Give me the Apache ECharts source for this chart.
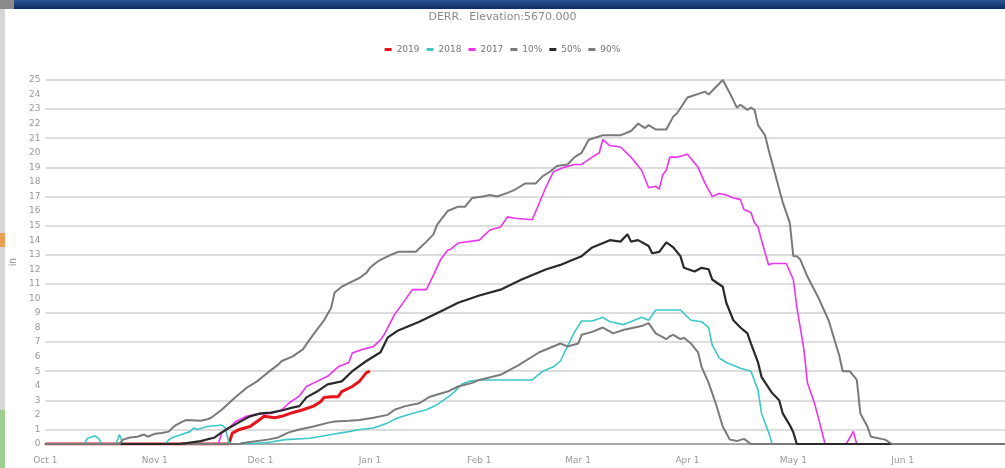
<!DOCTYPE html>
<html>
<head>
<meta charset="utf-8">
<title>DERR snow</title>
<script src="https://cdn.jsdelivr.net/npm/echarts@6/dist/echarts.min.js"></script>
<style>
	html, body { margin: 0; padding: 0; background: #fff; }
	#chart { position: absolute; left: 0; top: 0; width: 1005px; height: 468px; }
	.bar { position: absolute; top: 0; left: 14px; right: 0; height: 9px; background: linear-gradient(#2d5596, #0c2c63); }
	.barl { position: absolute; top: 0; left: 0; width: 14px; height: 9px; background: #8a8a8a; }
	.edge { position: absolute; left: 0; top: 9px; width: 5px; height: 459px; background: #d6d6d6; }
	.edge-o { position: absolute; left: 0; top: 233px; width: 5px; height: 14px; background: #e8a050; }
	.edge-g { position: absolute; left: 0; top: 410px; width: 5px; height: 58px; background: #9ccf90; }
</style>
</head>
<body>
<div id="chart"></div>
<div class="bar"></div><div class="barl"></div>
<div class="edge"></div><div class="edge-o"></div><div class="edge-g"></div>
<script>
// x = days since Oct 1, y = inches
var monthDays = [0, 31, 61, 92, 123, 151, 182, 212, 243];
var tickLabels = ['Oct 1', 'Nov 1', 'Dec 1', 'Jan 1', 'Feb 1', 'Mar 1', 'Apr 1', 'May 1', 'Jun 1'];
var names = ['2019', '2018', '2017', '10%', '50%', '90%'];

var wy2019 = [[0,0],[52,0],[53,0.75],[55,1.0],[58,1.2],[60,1.55],[62,1.9],[65,1.8],[67,1.9],[70,2.15],[73,2.35],[76,2.6],[78,2.9],[79,3.2],[81,3.25],[83,3.25],[84,3.6],[87,3.95],[89,4.3],[91,4.9],[92,5.0]];

var wy2018 = [[0,0],[11,0],[12,0.4],[14,0.55],[15,0.4],[16,0],[20,0],[21,0.65],[22,0],[34,0],[35,0.3],[36,0.45],[38,0.6],[41,0.85],[42,1.1],[43,1.0],[46,1.2],[50,1.3],[51,1.1],[52,0.1],[53,0],[55,0],[56,0.1],[57,0],[63,0.1],[68,0.3],[75,0.4],[81,0.65],[86,0.85],[89,1.0],[93,1.1],[97,1.45],[100,1.8],[104,2.1],[108,2.35],[111,2.7],[114,3.2],[116,3.6],[118,4.1],[120,4.3],[123,4.4],[138,4.4],[141,5.0],[144,5.3],[146,5.7],[148,6.7],[150,7.7],[152,8.45],[155,8.45],[158,8.7],[160,8.4],[164,8.2],[169,8.7],[171,8.5],[173,9.2],[180,9.2],[183,8.5],[186,8.4],[188,8.0],[189,6.8],[191,5.9],[193,5.6],[197,5.2],[200,5.0],[202,3.7],[203,2.1],[205,0.8],[206,0],[272,0]];

var wy2017 = [[0,0],[49,0],[50,0.75],[52,1.1],[54,1.55],[57,1.9],[60,2.05],[64,2.1],[67,2.35],[69,2.8],[72,3.3],[74,3.95],[77,4.3],[80,4.65],[83,5.3],[86,5.6],[87,6.25],[90,6.5],[93,6.7],[95,7.15],[96,7.5],[99,8.9],[102,9.9],[104,10.6],[108,10.6],[110,11.6],[112,12.65],[114,13.3],[115,13.4],[117,13.8],[123,14.0],[126,14.7],[129,14.9],[131,15.6],[133,15.5],[138,15.4],[140,16.55],[142,17.7],[144,18.7],[147,19.0],[150,19.2],[152,19.2],[155,19.7],[157,20.0],[158,20.9],[160,20.5],[163,20.4],[166,19.7],[169,18.8],[171,17.6],[173,17.7],[174,17.5],[175,18.5],[176,18.8],[177,19.7],[179,19.7],[182,19.9],[184,19.3],[185,19.0],[187,17.9],[189,17.0],[191,17.2],[193,17.1],[195,16.9],[197,16.8],[198,16.1],[200,15.9],[201,15.2],[202,14.9],[203,14.0],[205,12.3],[206,12.4],[210,12.4],[212,11.3],[213,9.4],[215,6.5],[216,4.2],[218,2.8],[219,1.9],[221,0],[227,0],[229,0.86],[230,0],[272,0]];

var pct10 = [[0,0],[55,0],[57,0.1],[63,0.3],[66,0.45],[69,0.8],[72,1.0],[76,1.2],[80,1.45],[82,1.55],[86,1.6],[89,1.65],[93,1.8],[97,2.0],[99,2.35],[102,2.6],[106,2.8],[109,3.25],[114,3.6],[117,3.95],[121,4.2],[123,4.4],[129,4.75],[134,5.4],[140,6.3],[146,6.9],[148,6.7],[151,6.9],[152,7.5],[155,7.7],[158,8.0],[161,7.6],[164,7.85],[169,8.1],[171,8.3],[173,7.6],[176,7.2],[177,7.4],[178,7.5],[180,7.2],[181,7.3],[183,6.9],[185,6.3],[186,5.3],[188,4.2],[190,2.8],[192,1.2],[194,0.3],[196,0.2],[198,0.35],[200,0],[272,0]];

var pct50 = [[0,0],[38,0],[41,0.1],[44,0.2],[48,0.45],[50,0.8],[52,1.1],[55,1.5],[58,1.9],[61,2.1],[64,2.15],[67,2.3],[70,2.5],[72,2.6],[74,3.2],[77,3.6],[80,4.1],[84,4.3],[87,5.0],[91,5.7],[95,6.3],[97,7.3],[100,7.8],[106,8.4],[112,9.1],[117,9.7],[123,10.2],[129,10.6],[135,11.3],[142,12.0],[146,12.3],[149,12.6],[152,12.9],[155,13.5],[160,14.0],[163,13.9],[165,14.4],[166,13.9],[168,14.0],[171,13.6],[172,13.1],[174,13.2],[176,13.85],[178,13.5],[180,12.9],[181,12.1],[184,11.85],[186,12.1],[188,12.0],[189,11.3],[192,10.8],[193,9.7],[195,8.5],[197,8.0],[199,7.6],[200,6.9],[202,5.6],[203,4.6],[206,3.5],[208,3.0],[209,2.1],[211,1.3],[212,0.8],[213,0],[272,0]];

var pct90 = [[0,0],[21,0],[22,0.3],[24,0.45],[26,0.5],[28,0.65],[29,0.5],[31,0.7],[33,0.75],[35,0.85],[36,1.1],[37,1.3],[39,1.55],[40,1.65],[44,1.6],[46,1.7],[47,1.8],[50,2.35],[52,2.8],[54,3.25],[57,3.85],[60,4.3],[63,4.9],[66,5.45],[67,5.7],[70,6.0],[73,6.5],[75,7.2],[77,7.85],[79,8.5],[81,9.35],[82,10.4],[84,10.8],[86,11.05],[89,11.4],[91,11.75],[92,12.1],[94,12.5],[95,12.65],[98,13.0],[100,13.2],[105,13.2],[108,13.9],[110,14.4],[111,15.05],[114,16.0],[117,16.3],[119,16.3],[121,16.9],[124,17.0],[126,17.1],[128,17.0],[131,17.25],[133,17.45],[134,17.6],[136,17.9],[139,17.9],[141,18.4],[143,18.7],[145,19.1],[148,19.2],[150,19.7],[152,20.0],[154,20.9],[158,21.2],[163,21.2],[166,21.5],[168,22.0],[170,21.7],[171,21.9],[173,21.6],[176,21.6],[178,22.5],[179,22.7],[182,23.8],[187,24.2],[188,24.0],[190,24.5],[192,25.0],[194,24.1],[196,23.1],[197,23.3],[199,22.95],[200,23.1],[201,22.95],[202,21.9],[204,21.2],[205,20.2],[207,18.4],[209,16.6],[211,15.2],[212,12.9],[213,12.9],[214,12.65],[216,11.5],[219,10.1],[222,8.5],[225,6.1],[226,5.0],[228,5.0],[230,4.4],[231,2.1],[233,1.2],[234,0.5],[238,0.3],[240,0],[272,0]];

var chart = echarts.init(document.getElementById('chart'));

function line(name, data, color, width) {
	return {
		name: name,
		type: 'line',
		data: data,
		symbol: 'none',
		color: color,
		lineStyle: { color: color, width: width },
		emphasis: { disabled: true }
	};
}

var option = {
	animation: false,
	backgroundColor: '#fff',
	title: {
		text: 'DERR.  Elevation:5670.000',
		left: 'center',
		top: 7,
		textStyle: { color: '#8a8a8a', fontSize: 11, fontWeight: 'normal', fontFamily: 'DejaVu Sans' }
	},
	legend: {
		data: names,
		top: 40,
		left: 'center',
		icon: 'rect',
		itemWidth: 7,
		itemHeight: 3,
		itemGap: 7,
		textStyle: { color: '#777', fontSize: 9, fontFamily: 'DejaVu Sans' }
	},
	grid: { left: 45, right: 0, top: 80, bottom: 24 },
	xAxis: {
		type: 'value',
		min: 0,
		max: 272,
		offset: 6,
		axisLine: { lineStyle: { color: '#a8a8a8', width: 2 } },
		axisTick: { show: false },
		splitLine: { show: false },
		axisLabel: {
			customValues: monthDays,
			color: '#999',
			fontSize: 9,
			margin: 6,
			fontFamily: 'DejaVu Sans',
			formatter: function (v) { return tickLabels[monthDays.indexOf(v)]; }
		}
	},
	yAxis: {
		type: 'value',
		min: 0,
		max: 25,
		interval: 1,
		name: 'in',
		nameLocation: 'middle',
		nameGap: 24,
		nameTextStyle: { color: '#888', fontSize: 10 },
		axisLine: { show: false },
		axisTick: { show: false },
		axisLabel: { color: '#999', fontSize: 9, margin: 5, fontFamily: 'DejaVu Sans' },
		splitLine: { lineStyle: { color: ['rgba(0,0,0,0)', '#d2d2d2'], width: 1.5 } }
	},
	series: [
		line('2019', wy2019, '#e8141a', 3),
		line('2018', wy2018, '#3cc8c8', 1.6),
		line('2017', wy2017, '#ee33ee', 1.6),
		line('10%', pct10, '#7a7a7a', 2),
		line('50%', pct50, '#2a2a2a', 2.2),
		line('90%', pct90, '#7a7a7a', 2)
	]
};
chart.setOption(option);
</script>
</body>
</html>
